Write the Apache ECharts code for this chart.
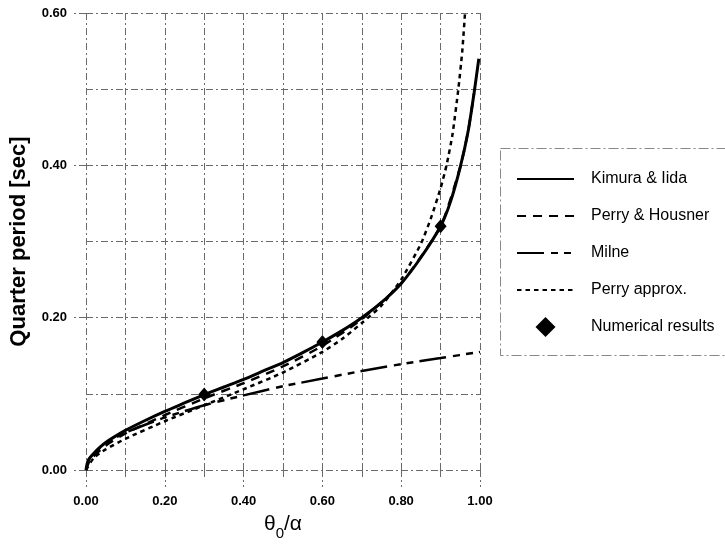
<!DOCTYPE html>
<html><head><meta charset="utf-8">
<script src="https://cdn.jsdelivr.net/npm/echarts/dist/echarts.min.js"></script>
<style>html,body{margin:0;padding:0;background:#fff}#c{width:725px;height:546px}</style>
</head><body><div id="c"></div>
<script>
const xTickLabels = ['0.00','0.20','0.40','0.60','0.80','1.00'];
const yTickLabels = ['0.00','0.20','0.40','0.60'];
const seriesNames = ['Kimura & Iida','Perry & Housner','Milne','Perry approx.','Numerical results'];

const kimuraX = [0, 0.005, 0.02, 0.05, 0.1, 0.15, 0.2, 0.25, 0.3, 0.35, 0.4, 0.45, 0.5, 0.55, 0.6, 0.65, 0.7, 0.75, 0.8, 0.85, 0.9, 0.925, 0.95, 0.97, 0.985, 0.997];
const kimuraY = [0, 0.012, 0.022, 0.036, 0.052, 0.065, 0.077, 0.088, 0.099, 0.109, 0.119, 0.13, 0.141, 0.154, 0.168, 0.183, 0.2, 0.22, 0.245, 0.279, 0.32, 0.352, 0.398, 0.445, 0.495, 0.54];

const housnerX = [0, 0.01, 0.05, 0.1, 0.2, 0.3, 0.4, 0.5, 0.6, 0.7, 0.8, 0.9, 0.95, 0.97, 0.985];
const housnerY = [0, 0.013, 0.032, 0.048, 0.072, 0.094, 0.114, 0.136, 0.163, 0.198, 0.245, 0.32, 0.398, 0.445, 0.495];

const milneX = [0, 0.01, 0.05, 0.1, 0.2, 0.3, 0.4, 0.5, 0.6, 0.7, 0.8, 0.9, 1.0];
const milneY = [0, 0.016, 0.035, 0.049, 0.069, 0.085, 0.098, 0.110, 0.120, 0.130, 0.139, 0.147, 0.155];

const approxX = [0, 0.02, 0.05, 0.1, 0.2, 0.3, 0.4, 0.5, 0.6, 0.65, 0.7, 0.75, 0.8, 0.85, 0.875, 0.9, 0.915, 0.93, 0.945, 0.955, 0.962];
const approxY = [0, 0.016, 0.027, 0.041, 0.064, 0.085, 0.106, 0.128, 0.155, 0.172, 0.193, 0.216, 0.25, 0.297, 0.33, 0.37, 0.40, 0.44, 0.5, 0.55, 0.6];

const numericalX = [0.3, 0.6, 0.9];
const numericalY = [0.099, 0.168, 0.32];

const zip = (xs, ys) => xs.map((x, i) => [x, ys[i]]);
const FONT = "'Liberation Sans', Arial, sans-serif";
const gridDash = [7, 3, 2, 3];
const gridLine = { color: '#6a6a6a', width: 1, type: gridDash };
const DIAMOND = 'path://M0,-1L1,0L0,1L-1,0Z';

const chart = echarts.init(document.getElementById('c'), null, { renderer: 'canvas' });
chart.setOption({
  backgroundColor: '#fff',
  animation: false,
  grid: { left: 84, right: 245, top: 13, bottom: 76, containLabel: false },
  xAxis: {
    type: 'value', min: 0, max: 1, interval: 0.2,
    axisLine: { show: false },
    axisTick: { show: true, inside: false, length: 17, lineStyle: gridLine },
    minorTick: { show: true, splitNumber: 2, length: 9, lineStyle: gridLine },
    splitLine: { show: true, lineStyle: gridLine },
    minorSplitLine: { show: true, lineStyle: gridLine },
    axisLabel: {
      margin: 25, color: '#000', fontFamily: FONT, fontWeight: 'bold', fontSize: 13,
      formatter: v => xTickLabels[Math.round(v / 0.2)] || ''
    },
    name: '{t|θ}{s|0}{t|/α}',
    nameLocation: 'middle', nameGap: 44,
    nameTextStyle: {
      color: '#000',
      rich: {
        t: { fontSize: 21, fontFamily: FONT, lineHeight: 22, verticalAlign: 'top', color: '#000' },
        s: { fontSize: 15, fontFamily: FONT, lineHeight: 15, padding: [12, 0, 0, 0], verticalAlign: 'top', color: '#000' }
      }
    }
  },
  yAxis: {
    type: 'value', min: 0, max: 0.6, interval: 0.2,
    axisLine: { show: false },
    axisTick: { show: true, inside: false, length: 12, lineStyle: gridLine },
    minorTick: { show: false, splitNumber: 2 },
    splitLine: { show: true, lineStyle: gridLine },
    minorSplitLine: { show: true, lineStyle: gridLine },
    axisLabel: {
      margin: 19, color: '#000', fontFamily: FONT, fontWeight: 'bold', fontSize: 13,
      formatter: v => yTickLabels[Math.round(v / 0.2)] || ''
    },
    name: 'Quarter period [sec]',
    nameLocation: 'middle', nameRotate: 90, nameGap: 56,
    nameTextStyle: { color: '#000', fontSize: 22, fontWeight: 'bold', fontFamily: FONT }
  },
  legend: {
    orient: 'vertical', left: 516, top: 169, padding: 0,
    itemWidth: 57, itemHeight: 20, itemGap: 17,
    symbolKeepAspect: true,
    itemStyle: { opacity: 0 },
    textStyle: { color: '#000', fontFamily: FONT, fontSize: 16, lineHeight: 20, padding: [0, 0, 0, 12] },
    data: seriesNames.map((n, i) => i === 4
      ? { name: n, icon: DIAMOND, itemStyle: { opacity: 1, color: '#000' } }
      : { name: n })
  },
  graphic: [{
    type: 'rect', silent: true, z: -1,
    shape: { x: 500.5, y: 148.5, width: 240, height: 207 },
    style: { fill: 'none', stroke: '#888', lineWidth: 1, lineDash: [10, 3, 2, 3] }
  }],
  series: [
    { name: seriesNames[0], type: 'line', data: zip(kimuraX, kimuraY), symbol: 'none', smooth: 0.2, z: 5,
      lineStyle: { color: '#000', width: 3, type: 'solid' }, itemStyle: { color: '#000' } },
    { name: seriesNames[1], type: 'line', data: zip(housnerX, housnerY), symbol: 'none', smooth: 0.2, z: 4,
      lineStyle: { color: '#000', width: 2.5, type: [9, 7] }, itemStyle: { color: '#000' } },
    { name: seriesNames[2], type: 'line', data: zip(milneX, milneY), symbol: 'none', smooth: 0.2, z: 4,
      lineStyle: { color: '#000', width: 2.5, type: [27, 7, 7, 6, 7, 6] }, itemStyle: { color: '#000' } },
    { name: seriesNames[3], type: 'line', data: zip(approxX, approxY), symbol: 'none', smooth: 0.2, z: 4,
      lineStyle: { color: '#000', width: 2.5, type: [4.5, 4] }, itemStyle: { color: '#000' } },
    { name: seriesNames[4], type: 'scatter', data: zip(numericalX, numericalY), symbol: DIAMOND, symbolKeepAspect: false, symbolSize: [12, 14], z: 6,
      itemStyle: { color: '#000', opacity: 1 } }
  ]
});
</script></body></html>
